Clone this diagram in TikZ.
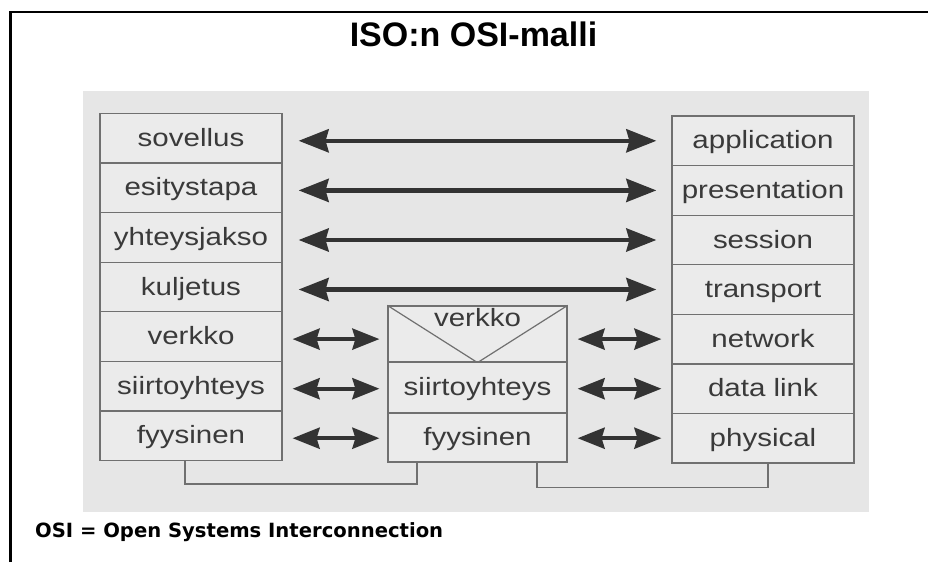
\documentclass[tikz,border=0pt]{standalone}
\usepackage{fontspec}
\setmainfont{Liberation Sans}
\newfontfamily\cellfont[FakeStretch=1.18]{Liberation Sans}
\newfontfamily\footfont{DejaVu Sans}
\usetikzlibrary{arrows.meta,calc}

\definecolor{panel}{HTML}{E6E6E6}
\definecolor{cellfill}{HTML}{EBEBEB}
\definecolor{cellline}{HTML}{707070}
\definecolor{ink}{HTML}{3A3A3A}
\definecolor{arrowink}{HTML}{333333}

\tikzset{
  celltext/.style={text=ink, font=\cellfont\fontsize{25}{30}\selectfont},
  cell/.style={draw=cellline, line width=1.2pt, fill=cellfill, rectangle,
    inner sep=0pt, celltext, text height=17pt, text depth=1pt},
  leftcell/.style={cell, minimum width=182pt, minimum height=49.57pt},
  rightcell/.style={cell, minimum width=182pt, minimum height=49.57pt},
  midcell/.style={cell, minimum width=179pt},
  longarrow/.style={draw=arrowink, line width=4.5pt,
    {Stealth[length=30pt,width=23pt,inset=3pt]}-{Stealth[length=30pt,width=23pt,inset=3pt]}},
  shortarrow/.style={draw=arrowink, line width=4pt,
    {Stealth[length=27pt,width=21pt,inset=3pt]}-{Stealth[length=27pt,width=21pt,inset=3pt]}},
  link/.style={draw=cellline, line width=1.2pt},
}

\begin{document}
\begin{tikzpicture}[x=1pt, y=-1pt]
\useasboundingbox (0,0) rectangle (928,562);

% page frame
\draw[line width=2.5pt] (10.5,562) -- (10.5,12) -- (928,12);

% title
\node[anchor=base, font=\bfseries\fontsize{34}{40}\selectfont] (title) at (473.5,46) {ISO:n OSI-malli};

% grey panel
\fill[panel] (83,91) rectangle (869,512);

% left stack
\node[leftcell] (L1) at (191,138.3) {sovellus};
\node[leftcell] (L2) at (191,187.9) {esitystapa};
\node[leftcell] (L3) at (191,237.5) {yhteysjakso};
\node[leftcell] (L4) at (191,287.0) {kuljetus};
\node[leftcell] (L5) at (191,336.6) {verkko};
\node[leftcell] (L6) at (191,386.2) {siirtoyhteys};
\node[leftcell] (L7) at (191,435.7) {fyysinen};

% right stack
\node[rightcell] (R1) at (763,140.8) {application};
\node[rightcell] (R2) at (763,190.4) {presentation};
\node[rightcell] (R3) at (763,240.0) {session};
\node[rightcell] (R4) at (763,289.5) {transport};
\node[rightcell] (R5) at (763,339.1) {network};
\node[rightcell] (R6) at (763,388.7) {data link};
\node[rightcell] (R7) at (763,438.2) {physical};

% intermediate node
\node[midcell, minimum height=56pt] (M1) at (477.5,334) {};
\draw[cellline, line width=1.2pt] (M1.north west) -- (M1.south) -- (M1.north east);
\node[anchor=base, celltext, inner sep=0pt] (M1t)
  at ($(M1.north)+(0,21)$) {verkko};
\node[midcell, minimum height=51pt] (M2) at (477.5,387.5) {siirtoyhteys};
\node[midcell, minimum height=49pt] (M3) at (477.5,437.5) {fyysinen};

% peer-to-peer arrows, upper layers
\draw[longarrow, shorten <=16pt, shorten >=15pt] (L1.east |- R1.west) -- (R1.west);
\draw[longarrow, shorten <=16pt, shorten >=15pt] (L2.east |- R2.west) -- (R2.west);
\draw[longarrow, shorten <=16pt, shorten >=15pt] (L3.east |- R3.west) -- (R3.west);
\draw[longarrow, shorten <=16pt, shorten >=15pt] (L4.east |- R4.west) -- (R4.west);

% hop-by-hop arrows, lower layers
\draw[shortarrow, shorten <=10pt, shorten >=8pt] (L5.east |- R5.west) -- (M1.west |- R5.west);
\draw[shortarrow, shorten <=10pt, shorten >=8pt] (L6.east |- R6.west) -- (M2.west |- R6.west);
\draw[shortarrow, shorten <=10pt, shorten >=8pt] (L7.east |- R7.west) -- (M3.west |- R7.west);
\draw[shortarrow, shorten <=10pt, shorten >=10pt] (M1.east |- R5.west) -- (R5.west);
\draw[shortarrow, shorten <=10pt, shorten >=10pt] (M2.east |- R6.west) -- (R6.west);
\draw[shortarrow, shorten <=10pt, shorten >=10pt] (M3.east |- R7.west) -- (R7.west);

% physical links
\draw[link] ([xshift=-6pt]L7.south) -- ++(0,23) -| ([xshift=-60.5pt]M3.south);
\draw[link] ([xshift=59.5pt]M3.south) -- ++(0,25) -| ([xshift=5pt]R7.south);

% footnote
\node[anchor=base west, inner sep=0pt, font=\footfont\bfseries\fontsize{19.6}{23}\selectfont] (foot)
  at (35,537) {OSI = Open Systems Interconnection};
\end{tikzpicture}
\end{document}
